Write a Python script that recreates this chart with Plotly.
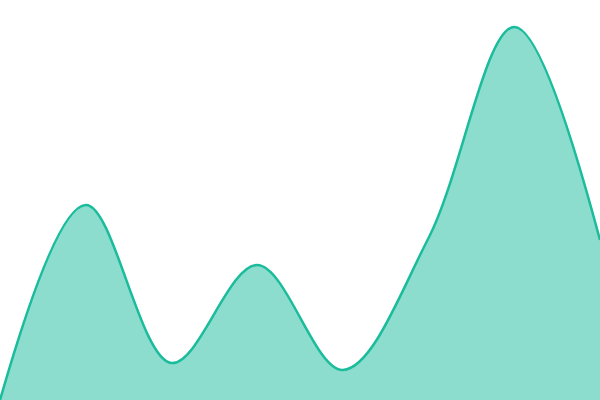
import plotly.graph_objects as go

# equally spaced points across the width
x_pts = [0, 1, 2, 3, 4, 5, 6, 7]
y_vals = [0, 195, 37, 135, 30, 162, 373, 160]

fig = go.Figure()

fig.add_trace(go.Scatter(
    x=x_pts, y=y_vals, mode='lines',
    line=dict(color='#1abc9c', width=2.5, shape='spline', smoothing=1),
    fill='tozeroy',
    fillcolor='rgba(26,188,156,0.5)',
    hoverinfo='skip'
))

fig.update_layout(
    width=600, height=400,
    margin=dict(l=0, r=0, t=0, b=0),
    xaxis=dict(visible=False, range=[0, 7], fixedrange=True),
    yaxis=dict(visible=False, range=[0, 400], fixedrange=True),
    plot_bgcolor='white',
    paper_bgcolor='white',
    showlegend=False
)

# drop the browser's default body margin so the chart sits flush in the window
fig.write_html("out.html", config={'displayModeBar': False},
               post_script="document.body.style.margin='0';document.body.style.overflow='hidden';")
